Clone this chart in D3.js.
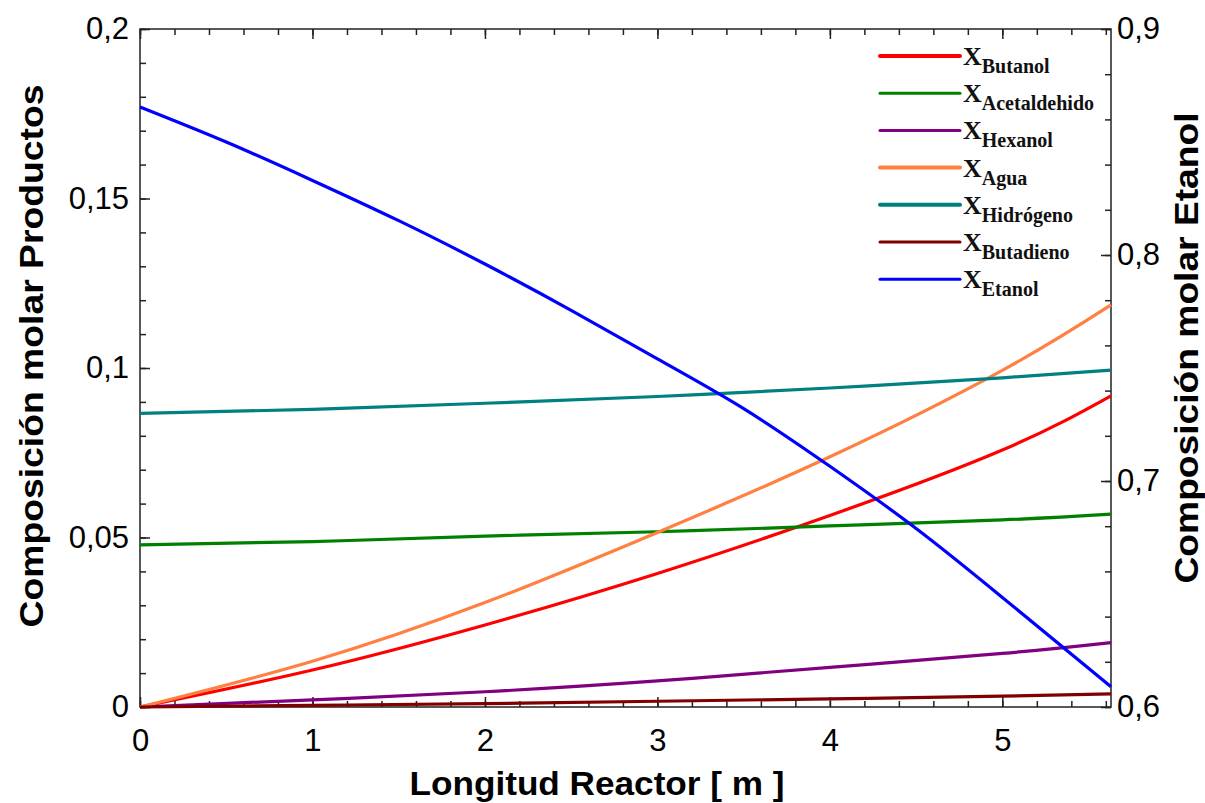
<!DOCTYPE html>
<html>
<head>
<meta charset="utf-8">
<script src="https://cdn.jsdelivr.net/npm/d3@7"></script>
<style>
  body { margin: 0; background: #fff; }
  svg text { font-family: "Liberation Sans", Arial, sans-serif; }
</style>
</head>
<body>
<div id="chart"></div>
<script>
'use strict';

// Reactor length [m]
var longitud = [0, 1, 2, 3, 4, 5, 5.63]
// Products (left axis)
var butanol      = [0, 0.0109, 0.0242, 0.0394, 0.0565, 0.0758, 0.0918]
var acetaldehido = [0.0478, 0.0488, 0.0504, 0.0517, 0.0534, 0.0552, 0.0569]
var hexanol      = [0, 0.0021, 0.0045, 0.0077, 0.0117, 0.0158, 0.0190]
var agua         = [0, 0.0135, 0.0308, 0.0515, 0.0738, 0.0993, 0.1186]
var hidrogeno    = [0.0866, 0.0878, 0.0896, 0.0916, 0.0941, 0.0971, 0.0994]
var butadieno    = [0, 0.0005, 0.0010, 0.0017, 0.0024, 0.0032, 0.0039]
// Ethanol (right axis)
var longitudEtanol = [0, 0.5, 1, 1.5, 2, 2.5, 3, 3.5, 4, 4.5, 5, 5.63]
var etanol = [0.8655, 0.8500, 0.8330, 0.8152, 0.7960, 0.7755, 0.7540, 0.7320, 0.7065, 0.6790, 0.6485, 0.6090]

var names = ['Butanol', 'Acetaldehido', 'Hexanol', 'Agua', 'Hidrógeno', 'Butadieno', 'Etanol']
var colors = ['#ff0000', '#008000', '#800080', '#ff8040', '#008080', '#800000', '#0000ff']
var legendWidths = [4, 3, 3, 4, 4, 3, 3]

var xTicks = [0, 1, 2, 3, 4, 5]
var yLeftTicks = [0, 0.05, 0.1, 0.15, 0.2]
var yRightTicks = [0.6, 0.7, 0.8, 0.9]

var width = 1205, height = 803
var margin = {top: 29, right: 94, bottom: 96, left: 140}
var w = width - margin.left - margin.right
var h = height - margin.top - margin.bottom

var svg = d3.select('#chart').append('svg')
    .attr('width', width)
    .attr('height', height)
  .append('g')
    .attr('transform', 'translate(' + margin.left + ',' + margin.top + ')')

var x = d3.scaleLinear().domain([0, 5.63]).range([0, w])
var yL = d3.scaleLinear().domain([0, 0.2]).range([h, 0])
var yR = d3.scaleLinear().domain([0.6, 0.9]).range([h, 0])

var fmt = function(d){ return String(+d.toFixed(2)).replace('.', ',') }

function style(g) {
  g.select('.domain').remove()
  g.selectAll('line').attr('stroke', '#222').attr('stroke-width', 1.5)
  g.selectAll('text')
    .attr('font-size', 31)
    .attr('fill', '#000')
}

// Minor ticks
svg.append('g').call(d3.axisLeft(yL).tickValues(d3.range(0, 0.2001, 0.01)).tickSize(-6).tickFormat('')).call(style)
svg.append('g').attr('transform', 'translate(' + w + ',0)')
  .call(d3.axisRight(yR).tickValues(d3.range(0.6, 0.9001, 0.02)).tickSize(-6).tickFormat('')).call(style)
svg.append('g').attr('transform', 'translate(0,' + h + ')')
  .call(d3.axisBottom(x).tickValues(d3.range(0, 5.63, 0.2)).tickSize(-6).tickFormat('')).call(style)
svg.append('g')
  .call(d3.axisTop(x).tickValues(d3.range(0, 5.63, 0.2)).tickSize(-6).tickFormat('')).call(style)

// Major ticks + labels
svg.append('g')
  .call(d3.axisLeft(yL).tickValues(yLeftTicks).tickSizeInner(-10).tickSizeOuter(0).tickPadding(11).tickFormat(fmt))
  .call(style)
svg.append('g').attr('transform', 'translate(' + w + ',0)')
  .call(d3.axisRight(yR).tickValues(yRightTicks).tickSizeInner(-10).tickSizeOuter(0).tickPadding(6).tickFormat(fmt))
  .call(style)
svg.append('g').attr('transform', 'translate(0,' + h + ')')
  .call(d3.axisBottom(x).tickValues(xTicks).tickSizeInner(-10).tickSizeOuter(0).tickPadding(22).tickFormat(fmt))
  .call(style)
svg.append('g')
  .call(d3.axisTop(x).tickValues(xTicks).tickSizeInner(-10).tickSizeOuter(0).tickFormat(''))
  .call(style)

// Frame
svg.append('rect')
  .attr('width', w)
  .attr('height', h)
  .attr('fill', 'none')
  .attr('stroke', '#222')
  .attr('stroke-width', 1.5)

// Curves
var products = [butanol, acetaldehido, hexanol, agua, hidrogeno, butadieno]
var lineL = d3.line()
  .x(function(d, i){ return x(longitud[i]) })
  .y(function(d){ return yL(d) })
  .curve(d3.curveNatural)

var plot = svg.append('g')
products.forEach(function(s, i){
  plot.append('path')
    .datum(s)
    .attr('d', lineL)
    .attr('fill', 'none')
    .attr('stroke', colors[i])
    .attr('stroke-width', 3.2)
})

var lineR = d3.line()
  .x(function(d, i){ return x(longitudEtanol[i]) })
  .y(function(d){ return yR(d) })
  .curve(d3.curveNatural)

plot.append('path')
  .datum(etanol)
  .attr('d', lineR)
  .attr('fill', 'none')
  .attr('stroke', colors[6])
  .attr('stroke-width', 3.2)

// Legend
var legend = svg.append('g').attr('transform', 'translate(' + (880 - margin.left) + ',' + (56 - margin.top) + ')')
names.forEach(function(n, i){
  var row = legend.append('g').attr('transform', 'translate(0,' + (i * 37.2) + ')')
  row.append('line')
    .attr('x1', 0).attr('x2', 80)
    .attr('stroke', colors[i])
    .attr('stroke-width', legendWidths[i])
    .attr('stroke-linecap', 'round')
  var t = row.append('text')
    .attr('x', 83)
    .attr('y', 9)
    .style('font-family', '"Liberation Serif", "Times New Roman", serif')
    .attr('font-weight', 'bold')
    .attr('fill', '#111')
  t.append('tspan').attr('font-size', 26).text('X')
  t.append('tspan').attr('font-size', 20).attr('dy', 8).text(n)
})

// Axis titles
svg.append('text')
  .attr('x', 597 - margin.left)
  .attr('y', h + 88)
  .attr('text-anchor', 'middle')
  .attr('font-size', 33)
  .attr('font-weight', 'bold')
  .attr('textLength', 375)
  .attr('lengthAdjust', 'spacingAndGlyphs')
  .text('Longitud Reactor [ m ]')

svg.append('text')
  .attr('transform', 'translate(' + (43 - margin.left) + ',' + (356 - margin.top) + ') rotate(-90)')
  .attr('text-anchor', 'middle')
  .attr('font-size', 33)
  .attr('font-weight', 'bold')
  .attr('textLength', 543)
  .attr('lengthAdjust', 'spacingAndGlyphs')
  .text('Composición molar Productos')

svg.append('text')
  .attr('transform', 'translate(' + (1198 - margin.left) + ',' + (348 - margin.top) + ') rotate(-90)')
  .attr('text-anchor', 'middle')
  .attr('font-size', 33)
  .attr('font-weight', 'bold')
  .attr('textLength', 471)
  .attr('lengthAdjust', 'spacingAndGlyphs')
  .text('Composición molar Etanol')
</script>
</body>
</html>
